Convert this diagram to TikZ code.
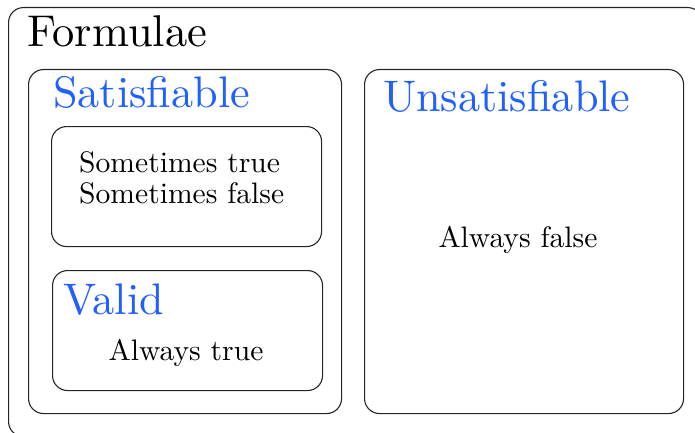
\documentclass[tikz,border=0pt]{standalone}
\usepackage{fontspec}
\setmainfont{lmroman10-regular.otf}
\definecolor{setblue}{RGB}{32,96,255}
\tikzset{
  setbox/.style={draw=black!85, line width=1.1pt, rounded corners=15pt, inner sep=0pt, anchor=north west},
  bigtitle/.style={anchor=base west, inner sep=0pt, font=\fontsize{44.5}{50}\selectfont},
  settitle/.style={bigtitle, text=setblue, font=\fontsize{44.2}{50}\selectfont},
  bodytext/.style={inner sep=0pt, anchor=base, font=\fontsize{29.6}{32}\selectfont},
}
\begin{document}
\begin{tikzpicture}[x=1pt,y=-1pt]
\useasboundingbox (0,0) rectangle (695,433);
% boxes
\node[setbox, minimum width=694pt, minimum height=429pt] (formulae) at (8,7) {};
\node[setbox, minimum width=313pt, minimum height=344pt] (sat) at (28,69) {};
\node[setbox, minimum width=319pt, minimum height=344pt] (unsat) at (364,69) {};
\node[setbox, minimum width=270pt, minimum height=120pt] (sometimes) at (51,126) {};
\node[setbox, minimum width=270pt, minimum height=120pt] (valid) at (52,270) {};
% titles
\node[bigtitle] (tformulae) at (27,47) {Formulae};
\node[settitle] (tsat) at (53,107) {Satisfiable};
\node[settitle] (tunsat) at (383,112) {Unsatisfiable};
\node[settitle] (tvalid) at (63,314) {Valid};
% body texts
\node[bodytext, anchor=base west] (tsomet) at (79,172) {Sometimes true};
\node[bodytext, anchor=base west] (tsomef) at (79,203) {Sometimes false};
\node[bodytext] (ttrue) at (186,360) {Always true};
\node[bodytext] (tfalse) at (518,247) {Always false};
\end{tikzpicture}
\end{document}
